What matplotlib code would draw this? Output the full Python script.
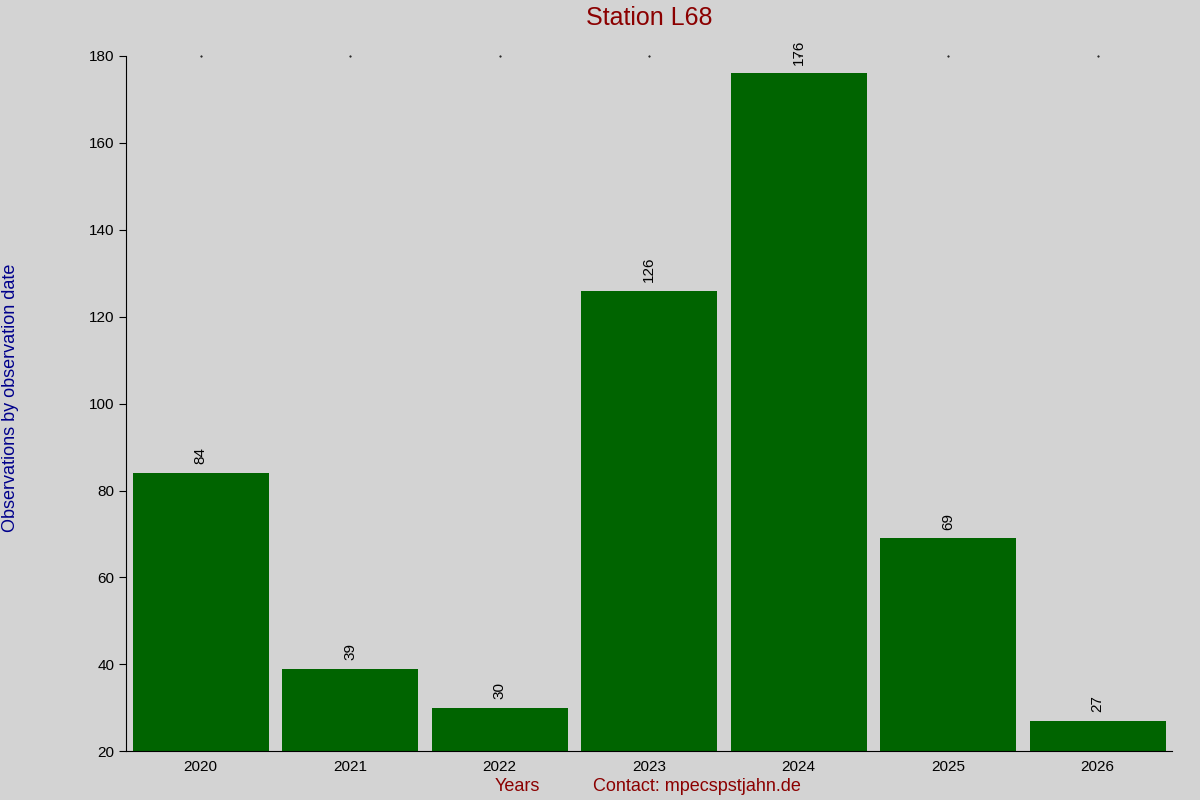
import matplotlib
matplotlib.use("Agg")
import matplotlib.pyplot as plt

years = ["2020", "2021", "2022", "2023", "2024", "2025", "2026"]
counts = [84, 39, 30, 126, 176, 69, 27]

plt.rcParams['font.family'] = ['Liberation Sans', 'DejaVu Sans']
fig = plt.figure(figsize=(12, 8), dpi=100, facecolor='#d3d3d3')
ax = fig.add_axes([0.105, 0.061, 0.872, 0.869])
ax.set_facecolor('#d3d3d3')
x = list(range(len(years)))
ax.bar(x, [c - 20 for c in counts], bottom=20, width=0.91, color='#006400')
for xi, c in zip(x, counts):
    ax.text(xi, c + 2, str(c), rotation=90, ha='center', va='bottom', fontsize=11)
ax.set_xlim(-0.5, 6.5)
ax.set_ylim(20, 180)
ax.set_xticks(x)
ax.set_xticklabels(years, fontsize=11)
ax.set_yticks(range(20, 181, 20))
ax.tick_params(axis='y', labelsize=11, direction='out', length=5)
ax.tick_params(axis='x', length=0, pad=6)
for s in ['top', 'right']:
    ax.spines[s].set_visible(False)
for xi in x:
    ax.plot(xi, 180, marker='.', markersize=1, color='black', clip_on=False)
fig.text(0.541, 0.978, "Station L68", ha='center', va='center', fontsize=18, color='#8b0000')
fig.text(0.009, 0.503, "Observations by observation date", rotation=90, ha='center', va='center', fontsize=13, color='#00008b')
fig.text(0.431, 0.017, "Years", ha='center', va='center', fontsize=13, color='#8b0000')
fig.text(0.581, 0.017, "Contact: mpecspstjahn.de", ha='center', va='center', fontsize=13, color='#8b0000')
fig.savefig("out.png", dpi=100, facecolor=fig.get_facecolor())
